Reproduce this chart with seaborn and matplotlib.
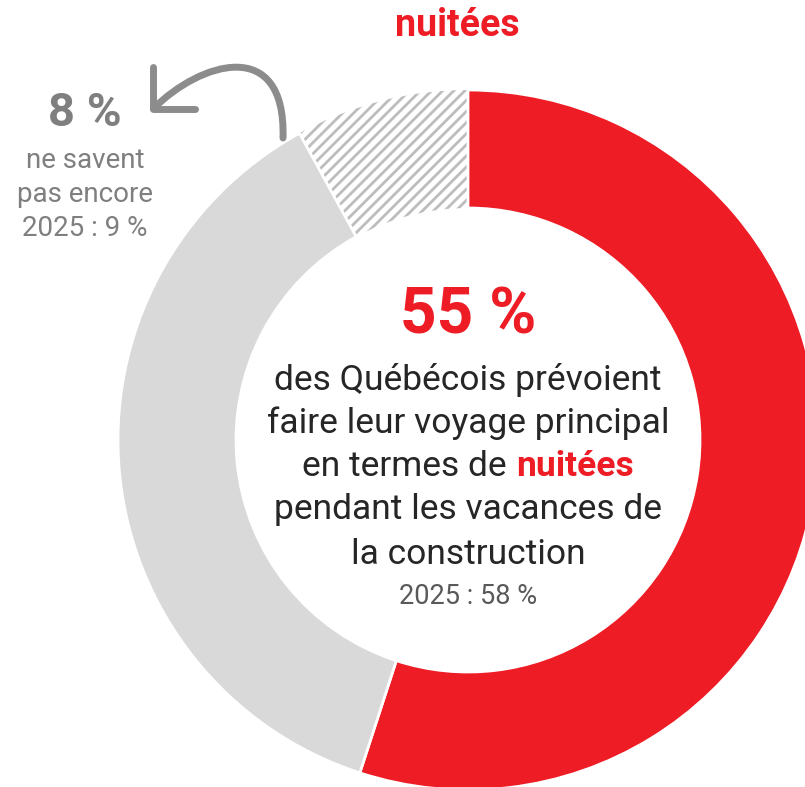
import matplotlib
matplotlib.use("Agg")
import matplotlib.pyplot as plt
import seaborn as sns
from matplotlib.patches import FancyArrowPatch
from matplotlib.path import Path

# data
labels = ["Voyage principal (nuitées)", "Autre", "Ne savent pas encore"]
values = [55, 37, 8]
prev_main = 58
prev_unsure = 9

RED = "#EE1C25"
GREY = "#D9D9D9"
DARK = "#262626"
MID = "#7F7F7F"

sns.set_theme(style="white")
plt.rcParams["font.family"] = ["Roboto", "DejaVu Sans"]
plt.rcParams["hatch.linewidth"] = 2.0

palette = sns.color_palette([RED, GREY, "#FFFFFF"])

W, H = 805, 787
fig = plt.figure(figsize=(W / 100, H / 100), dpi=100)
ax = fig.add_axes([0, 0, 1, 1])

cx, cy = 468, H - 440
wedges, _ = ax.pie(values, radius=350, center=(cx, cy), startangle=90,
                   counterclock=False, colors=palette,
                   wedgeprops=dict(width=118, edgecolor="white", linewidth=2))
# hatched "ne savent pas encore" slice
wedges[2].set_edgecolor("#BDBDBD")
wedges[2].set_linewidth(0)
wedges[2].set_hatch("///")
wedges[2].set_zorder(0)

ax.set_xlim(0, W)
ax.set_ylim(0, H)
ax.axis("off")

# title (cut at top)
ax.text(457, H - 25, "nuitées", color=RED, fontsize=27, fontweight="bold",
        ha="center", va="center")

# centre text
ax.text(cx, H - 316, f"{values[0]} %", color=RED, fontsize=46, fontweight="bold",
        ha="center", va="center")
body = ["des Québécois prévoient", "faire leur voyage principal", None,
        "pendant les vacances de", "la construction"]
ys = [380, 423, 466, 510, 554]
for line, y in zip(body, ys):
    if line:
        ax.text(cx, H - y, line, color=DARK, fontsize=25.5, ha="center", va="center")

t1 = ax.text(cx, H - 466, "en termes de ", color=DARK, fontsize=25.5,
             ha="left", va="center")
t2 = ax.annotate("nuitées", xy=(1, 0), xycoords=t1, color=RED, fontsize=25.5,
                 fontweight="bold", ha="left", va="bottom")
fig.canvas.draw()
r = fig.canvas.get_renderer()
w = t1.get_window_extent(r).width + t2.get_window_extent(r).width
t1.set_x(cx - w / 2)

ax.text(cx, H - 597, f"2025 : {prev_main} %", color="#595959", fontsize=19.5,
        ha="center", va="center")

# left label
ax.text(85, H - 113, f"{values[2]} %", color=MID, fontsize=34, fontweight="bold",
        ha="center", va="center")
ax.text(85, H - 160, "ne savent", color=MID, fontsize=20, ha="center", va="center")
ax.text(85, H - 194, "pas encore", color=MID, fontsize=20, ha="center", va="center")
ax.text(85, H - 229, f"2025 : {prev_unsure} %", color=MID, fontsize=20,
        ha="center", va="center")

# curved arrow from the hatched slice to the label
arc = Path([(283, H - 138), (286, H - 35), (200, H - 62), (150, H - 112)],
           [Path.MOVETO, Path.CURVE4, Path.CURVE4, Path.CURVE4])
ax.add_patch(FancyArrowPatch(path=arc, arrowstyle="->,head_length=0.42,head_width=0.42",
                             color="#8C8C8C", lw=5, mutation_scale=50,
                             transform=ax.transData))

fig.savefig("out.png", dpi=100)
